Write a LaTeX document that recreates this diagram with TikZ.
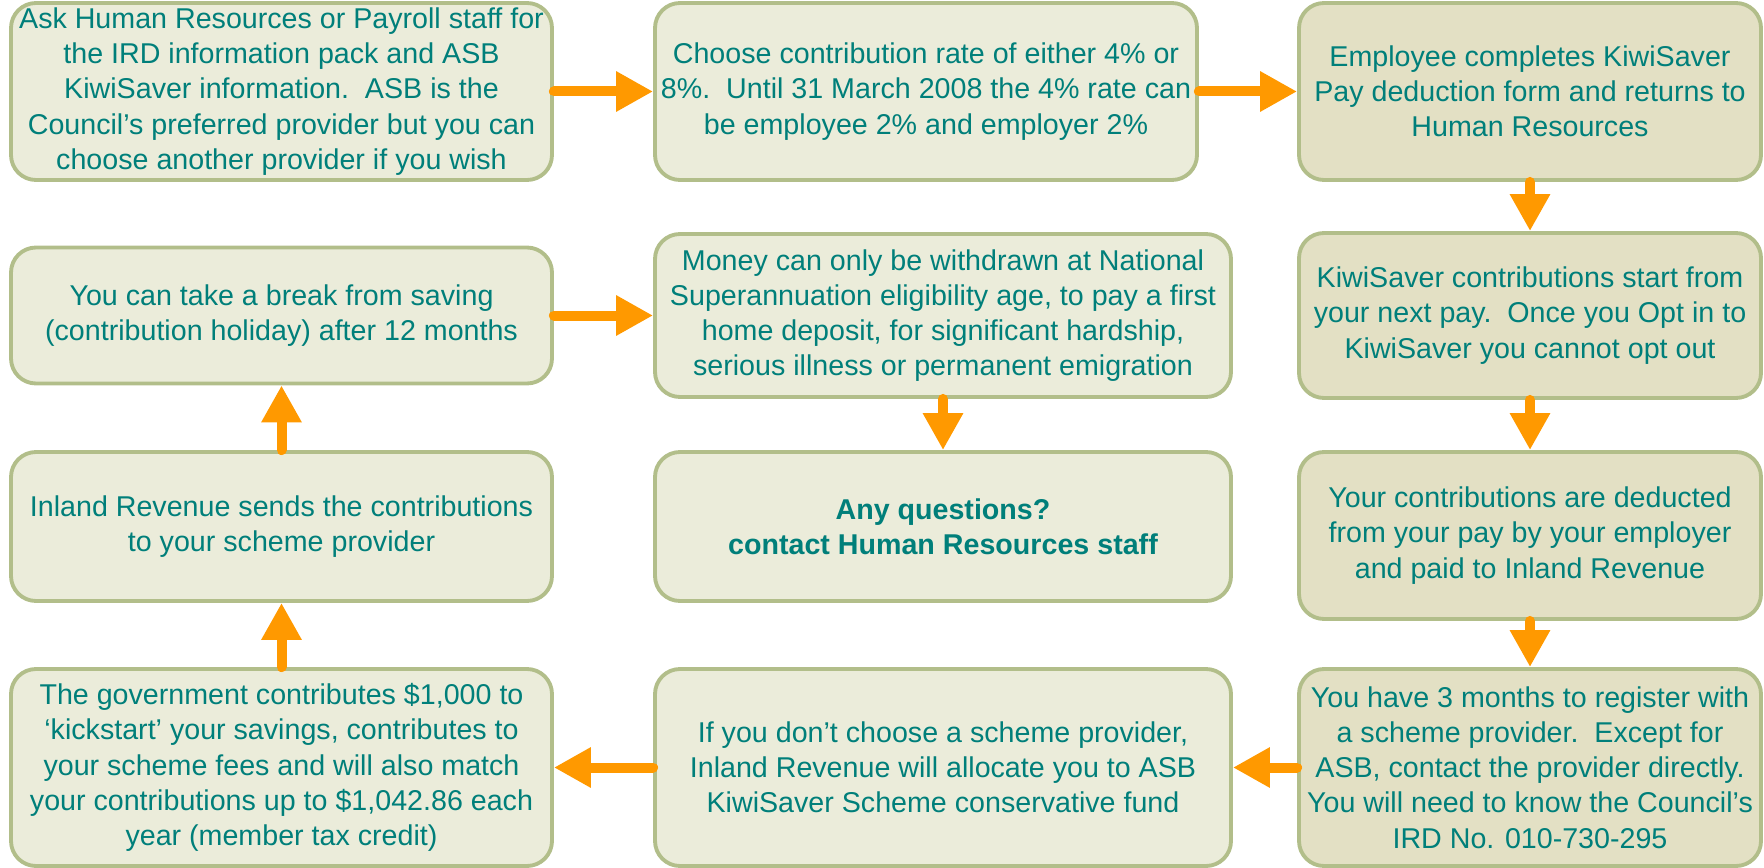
\documentclass[tikz,border=0pt]{standalone}
\usepackage{fontspec}
\setmainfont{Liberation Sans}
\usetikzlibrary{arrows.meta}

\definecolor{boxEdge}{HTML}{B2BE8A}
\definecolor{paleFill}{HTML}{EBECDA}
\definecolor{darkFill}{HTML}{E3E0C4}
\definecolor{tealText}{HTML}{007F7A}
\definecolor{arrowOrange}{HTML}{FF9900}

\def \pxLen {0.02cm}

\begin{document}
\begin{tikzpicture}[x=\pxLen, y=-\pxLen,
    box/.style={draw=boxEdge, line width=2.2pt, rounded corners=0.5cm, fill=#1,
      text=tealText, align=center, inner sep=0pt,
      font=\fontsize{16.3}{20}\selectfont},
    box/.default=paleFill,
    flow/.style={draw=arrowOrange, line width=0.2cm, line cap=round,
      -{Triangle[length=0.74cm,width=0.76cm]}}]
   \useasboundingbox (0,0) rectangle (1764,868);

   % top row
   \node[box, minimum width={541*\pxLen}, minimum height={177*\pxLen}] (ask) at (281.5, 91.5)
      {Ask Human Resources or Payroll staff for\\the IRD information pack and ASB\\KiwiSaver information.\ \ ASB is the\\Council’s preferred provider but you can\\choose another provider if you wish};
   \node[box, minimum width={542*\pxLen}, minimum height={177*\pxLen}] (choose) at (926, 91.5)
      {Choose contribution rate of either 4\% or\\8\%.\ \ Until 31 March 2008 the 4\% rate can\\be employee 2\% and employer 2\%};
   \node[box=darkFill, minimum width={462*\pxLen}, minimum height={177*\pxLen}] (employee) at (1530, 91.5)
      {Employee completes KiwiSaver\\Pay deduction form and returns to\\Human Resources};

   % right column
   \node[box=darkFill, minimum width={462*\pxLen}, minimum height={165*\pxLen}] (start) at (1530, 315.5)
      {KiwiSaver contributions start from\\your next pay.\ \ Once you Opt in to\\KiwiSaver you cannot opt out};
   \node[box=darkFill, minimum width={462*\pxLen}, minimum height={167*\pxLen}] (deduct) at (1530, 535.5)
      {Your contributions are deducted\\from your pay by your employer\\and paid to Inland Revenue};
   \node[box=darkFill, minimum width={462*\pxLen}, minimum height={197*\pxLen}] (register) at (1530, 767.5)
      {You have 3 months to register with\\a scheme provider.\ \ Except for\\ASB, contact the provider directly.\\You will need to know the Council’s\\IRD No. 010-730-295};

   % bottom row
   \node[box, minimum width={576*\pxLen}, minimum height={197*\pxLen}] (nochoice) at (943, 767.5)
      {If you don’t choose a scheme provider,\\Inland Revenue will allocate you to ASB\\KiwiSaver Scheme conservative fund};
   \node[box, minimum width={541*\pxLen}, minimum height={197*\pxLen}] (govt) at (281.5, 767.5)
      {The government contributes \$1,000 to\\‘kickstart’ your savings, contributes to\\your scheme fees and will also match\\your contributions up to \$1,042.86 each\\year (member tax credit)};

   % left column
   \node[box, minimum width={541*\pxLen}, minimum height={149*\pxLen}] (inland) at (281.5, 526.5)
      {Inland Revenue sends the contributions\\to your scheme provider};
   \node[box, minimum width={541*\pxLen}, minimum height={136*\pxLen}] (pause) at (281.5, 315.5)
      {You can take a break from saving\\(contribution holiday) after 12 months};

   % middle
   \node[box, minimum width={576*\pxLen}, minimum height={163*\pxLen}] (money) at (943, 315.5)
      {Money can only be withdrawn at National\\Superannuation eligibility age, to pay a first\\home deposit, for significant hardship,\\serious illness or permanent emigration};
   \node[box, minimum width={576*\pxLen}, minimum height={149*\pxLen}, font=\fontsize{16.3}{20}\selectfont\bfseries] (questions) at (943, 526.5)
      {Any questions?\\contact Human Resources staff};

   \draw[flow] (ask.east) -- (choose.west);
   \draw[flow] (choose.east) -- (employee.west);
   \draw[flow] (employee.south) -- (start.north);
   \draw[flow] (start.south) -- (deduct.north);
   \draw[flow] (deduct.south) -- (register.north);
   \draw[flow] (register.west) -- (nochoice.east);
   \draw[flow] (nochoice.west) -- (govt.east);
   \draw[flow] (govt.north) -- (inland.south);
   \draw[flow] (inland.north) -- (pause.south);
   \draw[flow] (pause.east) -- (money.west);
   \draw[flow] (money.south) -- (questions.north);
\end{tikzpicture}
\end{document}
